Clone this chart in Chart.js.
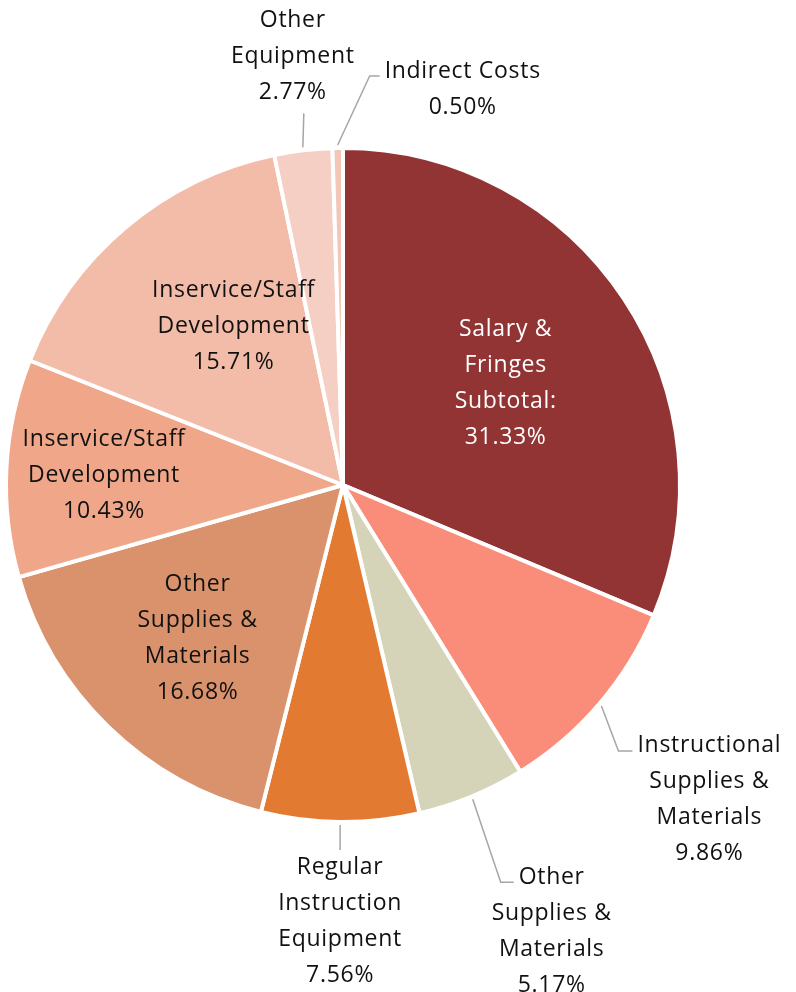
<!DOCTYPE html>
<html>
<head>
<meta charset="utf-8">
<script src="https://cdn.jsdelivr.net/npm/chart.js@4"></script>
<style>
  html, body { margin: 0; padding: 0; background: #fff; }
  #wrap { width: 796px; height: 992px; }
</style>
</head>
<body>
<div id="wrap"><canvas id="grafico"></canvas></div>
<script>
// data
const categorias = [
  ["Salary &", "Fringes", "Subtotal:"],
  ["Instructional", "Supplies &", "Materials"],
  ["Other", "Supplies &", "Materials"],
  ["Regular", "Instruction", "Equipment"],
  ["Other", "Supplies &", "Materials"],
  ["Inservice/Staff", "Development"],
  ["Inservice/Staff", "Development"],
  ["Other", "Equipment"],
  ["Indirect Costs"]
];
const valores = [31.33, 9.86, 5.17, 7.56, 16.68, 10.43, 15.71, 2.77, 0.50];
const cores = ["#923434", "#fa8d7a", "#d5d3b8", "#e37a31", "#d9926b", "#efa689", "#f2bca8", "#f5cfc3", "#f3c6b8"];

// label placement (style only)
const rotulos = [
  { tipo: "in", f: 0.573, da: 1, cor: "#fff" },
  { tipo: "out", d: [17, 45], h: 14 },
  { tipo: "out", d: [28, 83], h: 13 },
  { tipo: "down", d: [0, 25] },
  { tipo: "in", f: 0.62, da: 0, cor: "#111" },
  { tipo: "in", f: 0.71, da: 0, cor: "#111" },
  { tipo: "in", f: 0.58, da: 6, cor: "#111" },
  { tipo: "up", d: [1, -34], tx: -11 },
  { tipo: "out", d: [32, -69], h: 10 }
];

const FONTE = '23px "Open Sans", sans-serif';
const LH = 36;
const DY = 3; // ajuste vertical do texto

const pluginRotulos = {
  id: "rotulos",
  afterDatasetsDraw(chart) {
    const ctx = chart.ctx;
    const arcos = chart.getDatasetMeta(0).data;
    ctx.save();
    ctx.font = FONTE;
    ctx.letterSpacing = "0.7px";
    ctx.textAlign = "center";
    ctx.textBaseline = "middle";
    arcos.forEach((arco, i) => {
      const r = rotulos[i];
      const linhas = categorias[i].concat([valores[i].toFixed(2) + "%"]);
      const meio = (arco.startAngle + arco.endAngle) / 2;
      const R = arco.outerRadius;
      if (r.tipo === "in") {
        const a = meio + r.da * Math.PI / 180;
        const cx = arco.x + Math.cos(a) * R * r.f;
        const cy = arco.y + Math.sin(a) * R * r.f;
        ctx.fillStyle = r.cor;
        const y0 = cy - (linhas.length - 1) * LH / 2 + DY;
        linhas.forEach((t, k) => ctx.fillText(t, cx, y0 + k * LH));
        return;
      }
      const ex = arco.x + Math.cos(meio) * (R + 3);
      const ey = arco.y + Math.sin(meio) * (R + 3);
      const bx = ex + r.d[0], by = ey + r.d[1];
      ctx.strokeStyle = "#a6a6a6";
      ctx.lineWidth = 1.5;
      ctx.beginPath();
      ctx.moveTo(ex, ey);
      ctx.lineTo(bx, by);
      let fx = bx;
      if (r.h) { fx = bx + r.h; ctx.lineTo(fx, by); }
      ctx.stroke();
      ctx.fillStyle = "#111";
      if (r.tipo === "out") {
        const w0 = ctx.measureText(linhas[0]).width;
        const cx = fx + 5 + w0 / 2;
        const y0 = by - 8 + DY;
        linhas.forEach((t, k) => ctx.fillText(t, cx, y0 + k * LH));
      } else if (r.tipo === "down") {
        const y0 = by + 14 + DY;
        linhas.forEach((t, k) => ctx.fillText(t, bx + (r.tx || 0), y0 + k * LH));
      } else {
        const yN = by - 24 + DY;
        const n = linhas.length;
        linhas.forEach((t, k) => ctx.fillText(t, bx + (r.tx || 0), yN - (n - 1 - k) * LH));
      }
    });
    ctx.restore();
  }
};

new Chart(document.getElementById("grafico"), {
  type: "pie",
  data: {
    labels: categorias,
    datasets: [{
      data: valores,
      backgroundColor: cores,
      borderColor: "#ffffff",
      borderWidth: 4
    }]
  },
  options: {
    responsive: true,
    maintainAspectRatio: false,
    animation: false,
    layout: { padding: { left: 4, right: 114, top: 146, bottom: 168 } },
    plugins: {
      legend: { display: false },
      tooltip: { enabled: false }
    }
  },
  plugins: [pluginRotulos]
});
</script>
</body>
</html>
